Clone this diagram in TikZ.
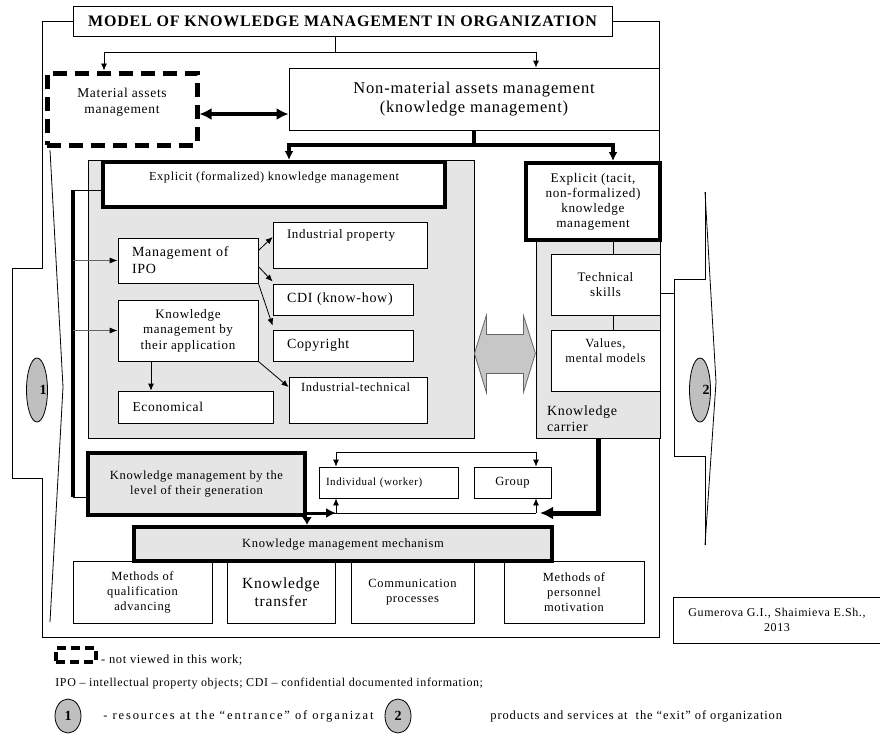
\documentclass[tikz,border=0pt]{standalone}
\usepackage{fontspec}
\setmainfont{Liberation Serif}[LetterSpace=5]
\usetikzlibrary{arrows.meta,shapes.geometric}
\newcommand{\fsz}[1]{\fontsize{#1}{\fpeval{1.2*#1}}\selectfont}

\begin{document}
\begin{tikzpicture}[x=1pt, y=-1pt, line width=0.8pt,
  sz/.style 2 args={minimum width=#1, minimum height=#2},
  box/.style={draw, fill=white, inner sep=0pt, align=center},
  heavy/.style={box, line width=4pt},
  panel/.style={draw, fill=black!10},
  lbl/.style={inner sep=0pt, align=left},
  blob/.style={ellipse, draw, fill=black!25, inner sep=0pt},
  arr/.style={-{Latex[length=7pt,width=6pt]}},
  arrg/.style={draw=black!60, -{Latex[length=8pt,width=6pt,black]}},
  darr/.style={{Latex[length=7pt,width=6pt]}-{Latex[length=7pt,width=6pt]}}]
  \fill[white] (0,0) rectangle (880,740);
  \useasboundingbox (0,0) rectangle (880,740);

  \node[box, sz={539}{30}, font=\bfseries\fsz{16}] (title) at (342.5,21) {MODEL OF KNOWLEDGE MANAGEMENT IN ORGANIZATION};
  \draw (title.west) -- (42,21) -- (42,268) -- (12,268) -- (12,478) -- (42,478) -- (42,637) -- (659,637) -- (659,21) -- (title.east);
  \draw (50,150) -- (63,387) -- (50,622);
  \node[blob, sz={21}{64}, label={[anchor=east, xshift=-1pt, inner sep=0pt, font=\bfseries\fsz{14}]east:1}] (in1) at (37,390) {};

  \draw (705,192) -- (705,279) -- (674,279) -- (674,456) -- (705,456) -- (705,545);
  \draw (705,192) -- (716,382) -- (705,545);
  \draw (659,293) -- (674,293);
  \node[blob, sz={21}{64}, label={[anchor=east, xshift=-1pt, inner sep=0pt, font=\bfseries\fsz{14}]east:2}] (out2) at (700,390) {};

  \node[box, line width=5pt, dash pattern=on 14pt off 8pt, sz={150}{72},
    label={[lbl, align=center, anchor=north, yshift=-17pt, font=\fsz{13.5}]north:{Material assets\\management}}] (mat) at (122,109) {};
  \node[box, sz={370}{62}, font=\fsz{16.5}] (nonmat) at (474,99) {Non-material assets management\\(knowledge management)};

  \node[panel, sz={386}{278}] (panelL) at (281,299) {};
  \node[panel, sz={124}{213},
    label={[lbl, anchor=south west, xshift=11pt, yshift=6pt, font=\fsz{14}]south west:{Knowledge\\carrier}}] (panelR) at (598,331.5) {};

  \node[heavy, sz={342}{45},
    label={[lbl, anchor=north, yshift=-11pt, font=\fsz{12.3}]north:Explicit (formalized) knowledge management}] (explf) at (274,184.5) {};
  \node[heavy, sz={134}{77}, font=\fontsize{13.2}{15}\selectfont] (tacit) at (593,201.5) {Explicit (tacit,\\non-formalized)\\knowledge\\management};

  \node[box, sz={140}{45}, text width=112, align=left, font=\fsz{14}] (ipo) at (188,260.5) {Management of\\IPO};
  \node[box, sz={140}{61}, font=\fsz{13}] (app) at (188,330.5) {Knowledge\\management by\\their application};
  \node[box, sz={155}{32}, text width=126, align=left, font=\fsz{13.5}] (econ) at (195.5,407) {Economical};
  \node[box, sz={154}{46},
    label={[lbl, anchor=north west, xshift=14pt, yshift=-7pt, font=\fsz{13}]north west:Industrial property}] (indprop) at (350,245) {};
  \node[box, sz={140}{31}, text width=112, align=left, font=\fsz{14}] (cdi) at (343,299.5) {CDI (know-how)};
  \node[box, sz={140}{31}, text width=112, align=left, font=\fsz{14}] (copy) at (343,345.5) {Copyright};
  \node[box, sz={138}{46},
    label={[lbl, anchor=north west, xshift=12pt, yshift=-6pt, font=\fsz{12.5}]north west:Industrial-technical}] (indtech) at (358,400) {};

  \node[box, sz={109}{61}, font=\fsz{13}] (techsk) at (605.5,284.5) {Technical\\skills};
  \node[box, sz={109}{61},
    label={[lbl, align=center, anchor=north, yshift=-9pt, font=\fsz{12.5}]north:{Values,\\mental models}}] (values) at (605.5,360.5) {};

  \draw[draw=black!60, fill=black!22] ([yshift=85pt]panelL.south east) -- ++(12,-38) -- ++(0,19) -- ++(37,0) -- ++(0,-19)
    -- ++(12,38) -- ++(-12,39) -- ++(0,-19) -- ++(-37,0) -- ++(0,19) -- cycle;

  \node[heavy, fill=black!10, sz={217}{62}, font=\fsz{12.5}] (gen) at (196.5,484) {Knowledge management by the\\level of their generation};
  \node[box, sz={139}{31}, text width=125, align=left, font=\fsz{11}] (indiv) at (388.5,482.5) {Individual (worker)};
  \node[box, sz={77}{31}, font=\fsz{12.5}] (group) at (512.5,482.5) {Group};

  \node[box, sz={139}{62}, font=\fsz{12.5}] (qual) at (142.5,592) {Methods of\\qualification\\advancing};
  \node[box, sz={108}{62}, font=\fsz{15.5}] (transfer) at (281,592) {Knowledge\\transfer};
  \node[box, sz={123}{62}, font=\fsz{12.5}] (comm) at (412.5,592) {Communication\\processes};
  \node[box, sz={140}{62}, font=\fsz{12.5}] (motiv) at (574,592) {Methods of\\personnel\\motivation};
  \node[heavy, fill=black!10, sz={418}{34}, font=\fsz{12.5}] (mech) at (343,544) {Knowledge management mechanism};

  \node[box, sz={208}{46}, font=\fsz{12}] (author) at (777,620) {Gumerova G.I., Shaimieva E.Sh.,\\2013};

  \coordinate (tsplit) at (335,52);
  \draw ([xshift=-7.5pt]title.south) -- (tsplit);
  \draw[arr] (tsplit) -| ([xshift=-18pt]mat.north);
  \draw[arr] (tsplit) -| ([xshift=62pt]nonmat.north);
  \draw[{Latex[length=12pt,width=12pt]}-{Latex[length=12pt,width=12pt]}, line width=4pt] ([yshift=-5pt]mat.east) -- ([yshift=-15pt]nonmat.west);

  \coordinate (nsplit) at (474,145);
  \draw[line width=3.5pt] (nonmat.south) -- (nsplit);
  \draw[line width=3.5pt, -{Latex[length=9pt,width=9pt]}] (nsplit) -| ([xshift=15pt]explf.north);
  \draw[line width=3.5pt, -{Latex[length=9pt,width=9pt]}] (nsplit) -| ([xshift=20pt]tacit.north);

  \coordinate (brtop) at (73,190);
  \coordinate (brbot) at (73,497);
  \draw[line width=4pt] (brtop) -- (brbot);
  \draw (brtop) -- (brtop -| explf.west);
  \draw (brbot) -- (brbot -| gen.west);
  \draw[arrg] (brtop |- ipo.west) -- (ipo.west);
  \draw[arrg] (brtop |- app.west) -- (app.west);

  \draw[arr] ([yshift=10pt]ipo.east) -- ([yshift=8pt]indprop.west);
  \draw[arr] ([yshift=-6pt]ipo.east) -- ([yshift=18pt]cdi.west);
  \draw[arr] (ipo.south east) -- ([yshift=20pt]copy.west);
  \draw[arr] (app.south east) -- ([yshift=13pt]indtech.west);
  \draw[arr] ([xshift=-37pt]app.south) -- ([xshift=-44.5pt]econ.north);

  \draw ([xshift=20pt]tacit.south) -- ([xshift=7.5pt]techsk.north);
  \draw ([xshift=7.5pt]techsk.south) -- ([xshift=7.5pt]values.north);

  \coordinate (ia) at (336,452);
  \coordinate (ga) at (536,452);
  \coordinate (ib) at (336,513);
  \coordinate (gb) at (536,513);
  \draw[darr] (ia |- indiv.north) -- (ia) -- (ga) -- (ga |- group.north);
  \draw (gen.east |- ib) -- (gb);
  \draw[arr] (ib) -- (ib |- indiv.south);
  \draw[arr] (gb) -- (gb |- group.south);
  \draw[line width=3pt, -{Latex[length=10pt,width=10pt]}] (gen.east |- ib) -- (ib);
  \draw[line width=3pt, -{Latex[length=8pt,width=10pt]}] (gen.south east) -- (gen.south east |- mech.north);
  \draw[line width=5pt, -{Latex[length=13pt,width=13pt]}] (panelR.south) |- ([xshift=4pt]gb);

  \node[draw, line width=3.5pt, dash pattern=on 9pt off 5pt, sz={40}{14}, inner sep=0pt] (legdash) at (76,655) {};
  \node[lbl, anchor=west, font=\fsz{12.5}] (legnv) at ([xshift=3pt,yshift=-5pt]legdash.east) {- not viewed in this work;};
  \node[lbl, anchor=west, font=\fsz{12}] (legipo) at (55,684) {IPO – intellectual property objects; CDI – confidential documented information;};
  \node[blob, sz={26}{34}, font=\bfseries\fsz{14}] (leg1) at (68,716) {1};
  \node[lbl, anchor=west, font=\fsz{12.5}\addfontfeature{LetterSpace=15}] (legin) at (103,716) {- resources at the “entrance” of organizat};
  \node[blob, sz={26}{34}, font=\bfseries\fsz{14}] (leg2) at (398,716) {2};
  \node[lbl, anchor=west, font=\fsz{12.5}\addfontfeature{LetterSpace=7}] (legout) at (490,716) {products and services at\ \ the “exit” of organization};
\end{tikzpicture}
\end{document}
